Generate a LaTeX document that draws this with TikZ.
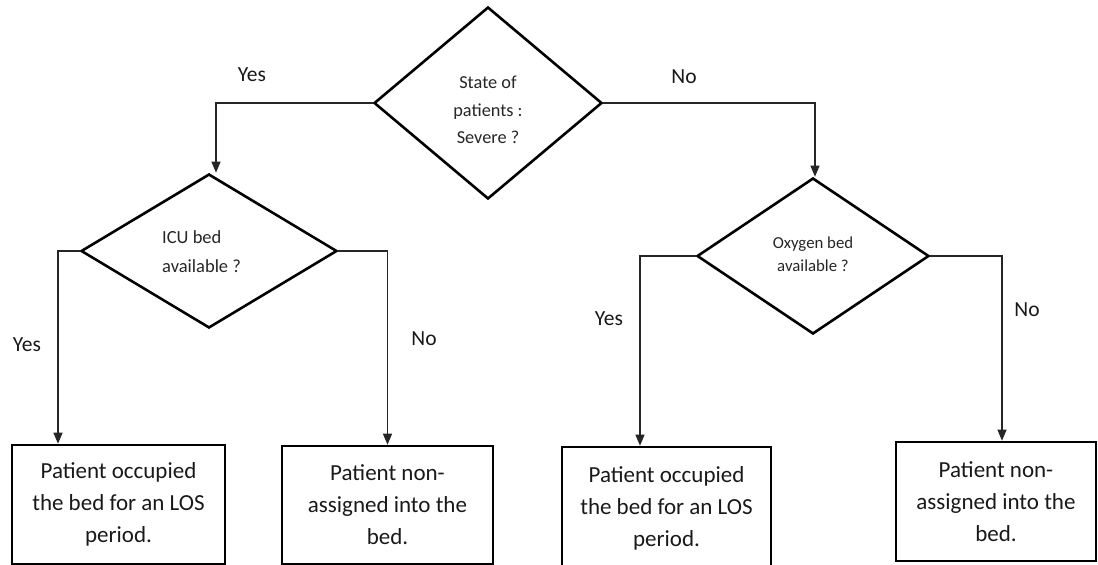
\documentclass[tikz,border=0pt]{standalone}
\usepackage{fontspec}
\setmainfont{Carlito}
\usetikzlibrary{shapes.geometric,arrows.meta}
\begin{document}
\begin{tikzpicture}[x=1pt,y=-1pt,
  dec/.style={diamond,draw=black,line width=2.6pt,inner sep=0pt},
  box/.style={rectangle,draw=black,line width=2.6pt,inner sep=0pt,align=center,
    font=\fontsize{23}{32}\selectfont,text=black!90},
  dtxt/.style={inner sep=0pt,text=black!85},
  lbl/.style={font=\fontsize{21.5}{26}\selectfont,inner sep=0pt,text=black!90},
  conn/.style={line width=1.2pt,draw=black!85,-{Triangle[length=11pt,width=9pt]}},
]
\useasboundingbox (0,0) rectangle (1098,565);

% decisions
\node[dec,minimum width=228pt,minimum height=192pt] (top) at (488,103) {};
\node[dtxt,align=center,font=\fontsize{18.3}{27.5}\selectfont] (toptxt) at (488,110) {State of\\patients :\\Severe ?};

\node[dec,minimum width=256pt,minimum height=154pt] (icu) at (209,251) {};
\node[dtxt,align=left,anchor=west,font=\fontsize{18.5}{29}\selectfont] (icutxt) at (162,252) {ICU bed\\available ?};

\node[dec,minimum width=232pt,minimum height=156pt] (oxy) at (813,256) {};
\node[dtxt,align=center,font=\fontsize{16.8}{23}\selectfont] (oxytxt) at (813,254) {Oxygen bed\\available ?};

% outcomes
\node[box,minimum width=213pt,minimum height=119pt] (b1) at (118.5,504.5) {Patient occupied\\the bed for an LOS\\period.};
\node[box,minimum width=211pt,minimum height=118pt] (b2) at (387.5,505) {Patient non-\\assigned into the\\bed.};
\node[box,minimum width=209pt,minimum height=123pt] (b3) at (666.5,508.5) {Patient occupied\\the bed for an LOS\\period.};
\node[box,minimum width=200pt,minimum height=119pt] (b4) at (996,501.5) {Patient non-\\assigned into the\\bed.};

% connectors
\draw[conn] (top.west) -| ([xshift=7pt]icu.north);
\draw[conn] (top.east) -| ([xshift=2pt]oxy.north);
\draw[conn] (icu.west) -| ([xshift=-60.5pt]b1.north);
\draw[conn] (icu.east) -| (b2.north);
\draw[conn] (oxy.west) -| ([xshift=-26.5pt]b3.north);
\draw[conn] (oxy.east) -| ([xshift=6pt]b4.north);

% labels
\node[lbl] (l1) at (252,75) {Yes};
\node[lbl] (l2) at (684,77) {No};
\node[lbl] (l3) at (27,345) {Yes};
\node[lbl] (l4) at (424,339) {No};
\node[lbl] (l5) at (609,319) {Yes};
\node[lbl] (l6) at (1027,310) {No};
\end{tikzpicture}
\end{document}
